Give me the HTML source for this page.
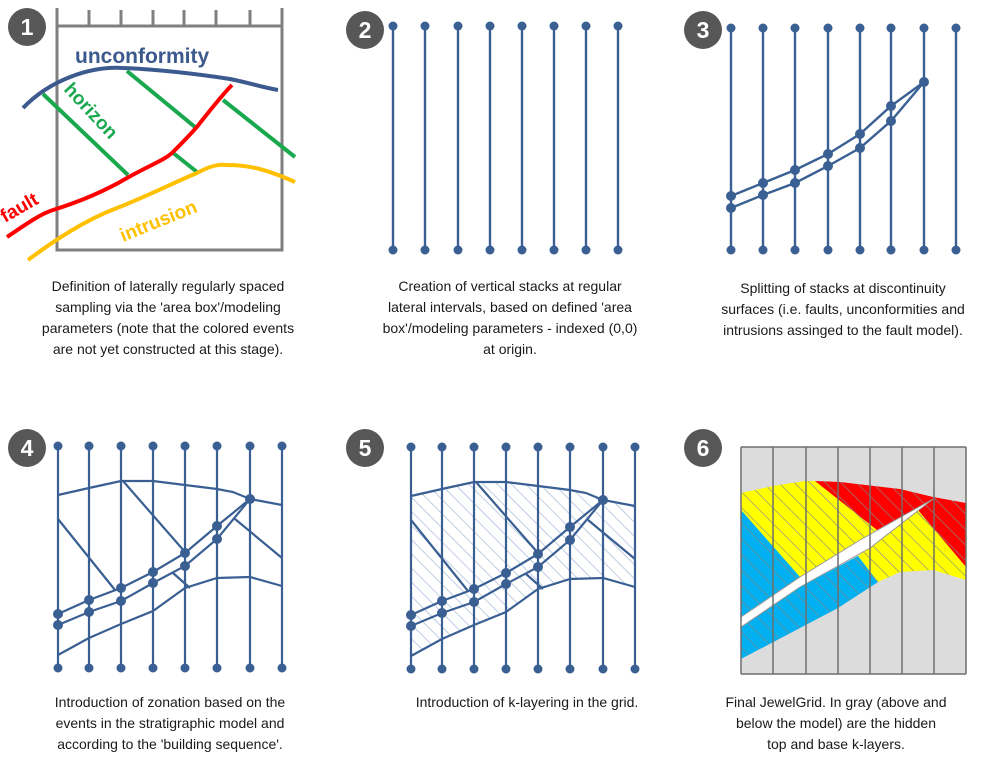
<!DOCTYPE html>
<html><head><meta charset="utf-8"><style>
html,body{margin:0;padding:0;background:#fff;}
svg{display:block}
text{font-family:"Liberation Sans",Arial,sans-serif;}
.cap{font-size:14px;fill:#1a1a1a;text-anchor:middle;}
.num{font-size:23px;font-weight:bold;fill:#fff;text-anchor:middle;}
</style></head><body>
<svg width="1000" height="774" viewBox="0 0 1000 774" xmlns="http://www.w3.org/2000/svg">
<defs>
<pattern id="hb" patternUnits="userSpaceOnUse" width="10" height="10" patternTransform="rotate(-45)">
<line x1="0" y1="0" x2="0" y2="10" stroke="#a9bddb" stroke-width="1.5"/></pattern>
<pattern id="hg" patternUnits="userSpaceOnUse" width="11" height="11" patternTransform="rotate(-45)">
<line x1="0" y1="0" x2="0" y2="11" stroke="#8a8a8a" stroke-width="1.3"/></pattern>
<g id="grid4" stroke="#3a5f93" stroke-width="2.2" fill="none">
<path d="M58,446V668M89,446V668M121,446V668M153,446V668M185,446V668M217,446V668M250,446V668M282,446V668"/>
<polyline points="58,495 89,488 121,481 153,481 185,485 217,489 233,492 250,499 282,505"/>
<polyline points="58,519 115,590"/>
<polyline points="123,481 185,552"/>
<polyline points="235,519 282,558"/>
<polyline points="173,573 190,588"/>
<polyline points="58,655 89,638 121,624 153,611 185,588 217,578 250,577 282,586"/>
<polyline points="58,614 89,600 121,588 153,572 185,553 217,526 250,499"/>
<polyline points="58,625 89,612 121,601 153,583 185,566 217,539 250,499"/>
<g fill="#3a5f93" stroke="none">
<circle cx="58" cy="446" r="4.5"/><circle cx="89" cy="446" r="4.5"/><circle cx="121" cy="446" r="4.5"/><circle cx="153" cy="446" r="4.5"/><circle cx="185" cy="446" r="4.5"/><circle cx="217" cy="446" r="4.5"/><circle cx="250" cy="446" r="4.5"/><circle cx="282" cy="446" r="4.5"/>
<circle cx="58" cy="668" r="4.5"/><circle cx="89" cy="668" r="4.5"/><circle cx="121" cy="668" r="4.5"/><circle cx="153" cy="668" r="4.5"/><circle cx="185" cy="668" r="4.5"/><circle cx="217" cy="668" r="4.5"/><circle cx="250" cy="668" r="4.5"/><circle cx="282" cy="668" r="4.5"/>
<circle cx="58" cy="614" r="5"/><circle cx="89" cy="600" r="5"/><circle cx="121" cy="588" r="5"/><circle cx="153" cy="572" r="5"/><circle cx="185" cy="553" r="5"/><circle cx="217" cy="526" r="5"/><circle cx="250" cy="499" r="5"/>
<circle cx="58" cy="625" r="5"/><circle cx="89" cy="612" r="5"/><circle cx="121" cy="601" r="5"/><circle cx="153" cy="583" r="5"/><circle cx="185" cy="566" r="5"/><circle cx="217" cy="539" r="5"/>
</g></g>
</defs>

<!-- Panel 1 -->
<g fill="none" stroke="#7f7f7f" stroke-width="3">
<rect x="57" y="26" width="225" height="224"/>
<path d="M57,26V8M89,26V10M121,26V10M153,26V10M184,26V10M216,26V10M250,26V10M282,26V8"/>
</g>
<g fill="none" stroke-width="4" stroke-linecap="butt">
<path d="M23,108 C50,80 90,66 123,68 C170,70 210,76 230,79 C250,83 265,88 278,90" stroke="#3c5a8e"/>
<path d="M43,94L128,175M127,71L195,127M172,152L197,172M223,100L295,157" stroke="#1aa84e"/>
<path d="M7,237 C25,225 40,214 53,210 C85,200 110,188 127,178 C150,165 165,160 173,152 C185,140 195,130 200,123 C215,104 225,92 232,85" stroke="#f00"/>
<path d="M28,260 C55,240 85,220 117,208 C150,195 175,182 197,173 C210,166 218,164 227,165 C250,165 268,170 295,182" stroke="#ffc000"/>
</g>
<text x="75" y="63" font-size="21" font-weight="bold" fill="#3c5a8e">unconformity</text>
<text x="0" y="0" font-size="19" font-weight="bold" fill="#1aa84e" transform="translate(63,90) rotate(47)">horizon</text>
<text x="0" y="0" font-size="19" font-weight="bold" fill="#f00" transform="translate(5,223) rotate(-30)">fault</text>
<text x="0" y="0" font-size="19" font-weight="bold" fill="#ffc000" transform="translate(123,242) rotate(-22)">intrusion</text>

<!-- Panel 2 -->
<g stroke="#3a5f93" stroke-width="2.4">
<path d="M393,26V250M425,26V250M458,26V250M490,26V250M522,26V250M554,26V250M586,26V250M618,26V250"/>
</g>
<g fill="#3a5f93">
<circle cx="393" cy="26" r="4.5"/><circle cx="425" cy="26" r="4.5"/><circle cx="458" cy="26" r="4.5"/><circle cx="490" cy="26" r="4.5"/><circle cx="522" cy="26" r="4.5"/><circle cx="554" cy="26" r="4.5"/><circle cx="586" cy="26" r="4.5"/><circle cx="618" cy="26" r="4.5"/>
<circle cx="393" cy="250" r="4.5"/><circle cx="425" cy="250" r="4.5"/><circle cx="458" cy="250" r="4.5"/><circle cx="490" cy="250" r="4.5"/><circle cx="522" cy="250" r="4.5"/><circle cx="554" cy="250" r="4.5"/><circle cx="586" cy="250" r="4.5"/><circle cx="618" cy="250" r="4.5"/>
</g>

<!-- Panel 3 -->
<g stroke="#3a5f93" stroke-width="2.4" fill="none">
<path d="M731,28V250M763,28V250M795,28V250M828,28V250M860,28V250M891,28V250M924,28V250M956,28V250"/>
<polyline points="731,196 763,183 795,170 828,154 860,134 891,106 924,82"/>
<polyline points="731,208 763,195 795,183 828,166 860,148 891,121 924,82"/>
</g>
<g fill="#3a5f93">
<circle cx="731" cy="28" r="4.5"/><circle cx="763" cy="28" r="4.5"/><circle cx="795" cy="28" r="4.5"/><circle cx="828" cy="28" r="4.5"/><circle cx="860" cy="28" r="4.5"/><circle cx="891" cy="28" r="4.5"/><circle cx="924" cy="28" r="4.5"/><circle cx="956" cy="28" r="4.5"/>
<circle cx="731" cy="250" r="4.5"/><circle cx="763" cy="250" r="4.5"/><circle cx="795" cy="250" r="4.5"/><circle cx="828" cy="250" r="4.5"/><circle cx="860" cy="250" r="4.5"/><circle cx="891" cy="250" r="4.5"/><circle cx="924" cy="250" r="4.5"/><circle cx="956" cy="250" r="4.5"/>
<circle cx="731" cy="196" r="5"/><circle cx="763" cy="183" r="5"/><circle cx="795" cy="170" r="5"/><circle cx="828" cy="154" r="5"/><circle cx="860" cy="134" r="5"/><circle cx="891" cy="106" r="5"/><circle cx="924" cy="82" r="5"/>
<circle cx="731" cy="208" r="5"/><circle cx="763" cy="195" r="5"/><circle cx="795" cy="183" r="5"/><circle cx="828" cy="166" r="5"/><circle cx="860" cy="148" r="5"/><circle cx="891" cy="121" r="5"/>
</g>

<!-- Panel 4 -->
<use href="#grid4"/>

<!-- Panel 5 -->
<g transform="translate(353,1)">
<polygon points="58,495 89,488 121,481 153,481 185,485 217,489 233,492 250,499 282,505 282,586 250,577 217,578 185,588 153,611 121,624 89,638 58,655" fill="url(#hb)"/>
<use href="#grid4"/>
</g>

<!-- Panel 6 -->
<rect x="741" y="447" width="225" height="227" fill="#dcdcdc"/>
<g id="p6">
<polygon points="741,493 773,486 805,481 815,481 877,530 860,540 800,577 741,510" fill="#ffff00"/>
<polygon points="741,510 800,577 741,617" fill="#00b0f0"/>
<polygon points="815,481 840,482 900,489 933,497 966,503 966,567 912,515 933,499 877,530" fill="#ff0000"/>
<polygon points="858,556 918,510 966,567 966,580 933,570 900,572 878,582" fill="#ffff00"/>
<polygon points="741,627 800,587 858,556 878,582 838,608 741,659" fill="#00b0f0"/>
</g>
<g fill="url(#hg)">
<polygon points="741,493 773,486 805,481 815,481 877,530 860,540 800,577 741,510"/>
<polygon points="741,510 800,577 741,617"/>
<polygon points="815,481 840,482 900,489 933,497 966,503 966,567 912,515 933,499 877,530"/>
<polygon points="858,556 918,510 966,567 966,580 933,570 900,572 878,582"/>
<polygon points="741,627 800,587 858,556 878,582 838,608 741,659"/>
</g>
<polygon points="741,617 800,577 860,540 933,499 870,548 800,587 741,627" fill="#fff" stroke="#999" stroke-width="1"/>
<g stroke="#6e6e6e" stroke-width="1.5" fill="none">
<path d="M741,447V674M773,447V674M806,447V674M838,447V674M870,447V674M902,447V674M934,447V674M966,447V674"/>
<path d="M741,674H966M741,447H966"/>
</g>

<!-- Number badges -->
<g fill="#575757">
<circle cx="27" cy="27" r="19"/><circle cx="365" cy="30" r="19"/><circle cx="703" cy="30" r="19"/>
<circle cx="27" cy="448" r="19"/><circle cx="365" cy="448" r="19"/><circle cx="703" cy="448" r="19"/>
</g>
<text class="num" x="27" y="35">1</text><text class="num" x="365" y="38">2</text><text class="num" x="703" y="38">3</text>
<text class="num" x="27" y="456">4</text><text class="num" x="365" y="456">5</text><text class="num" x="703" y="456">6</text>

<!-- Captions -->
<text class="cap" x="168" y="291">Definition of laterally regularly spaced</text>
<text class="cap" x="168" y="312">sampling via the 'area box'/modeling</text>
<text class="cap" x="168" y="333">parameters (note that the colored events</text>
<text class="cap" x="168" y="354">are not yet constructed at this stage).</text>

<text class="cap" x="510" y="291">Creation of vertical stacks at regular</text>
<text class="cap" x="510" y="312">lateral intervals, based on defined 'area</text>
<text class="cap" x="510" y="333">box'/modeling parameters - indexed (0,0)</text>
<text class="cap" x="510" y="354">at origin.</text>

<text class="cap" x="843" y="293">Splitting of stacks at discontinuity</text>
<text class="cap" x="843" y="314">surfaces (i.e. faults, unconformities and</text>
<text class="cap" x="843" y="335">intrusions assinged to the fault model).</text>

<text class="cap" x="170" y="707">Introduction of zonation based on the</text>
<text class="cap" x="170" y="728">events in the stratigraphic model and</text>
<text class="cap" x="170" y="749">according to the 'building sequence'.</text>

<text class="cap" x="527" y="707">Introduction of k-layering in the grid.</text>

<text class="cap" x="836" y="707">Final JewelGrid. In gray (above and</text>
<text class="cap" x="836" y="728">below the model) are the hidden</text>
<text class="cap" x="836" y="749">top and base k-layers.</text>
</svg>
</body></html>
